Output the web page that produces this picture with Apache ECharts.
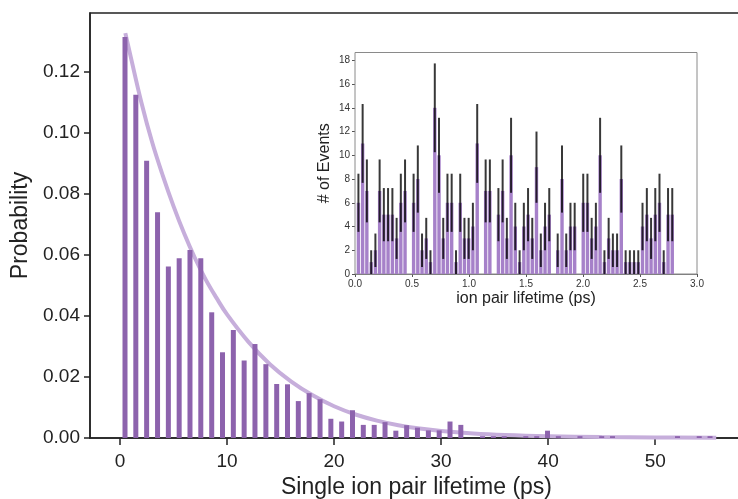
<!DOCTYPE html>
<html>
<head>
<meta charset="utf-8">
<script src="https://cdn.jsdelivr.net/npm/echarts@6/dist/echarts.min.js"></script>
<style>
  html, body { margin: 0; padding: 0; background: #fff; }
  #chart_main { width: 738px; height: 499px; }
</style>
</head>
<body>
<div id="chart_main"></div>
<script>
// main histogram: bin centres (ps) and probability
var lifeBins = [0.47, 1.48, 2.49, 3.51, 4.52, 5.53, 6.54, 7.55, 8.57, 9.58,
    10.59, 11.60, 12.61, 13.63, 14.64, 15.65, 16.66, 17.67, 18.69, 19.70,
    20.71, 21.72, 22.73, 23.75, 24.76, 25.77, 26.78, 27.79, 28.81, 29.82,
    30.83, 31.84, 32.85, 33.87, 34.88, 35.89, 36.90, 37.91, 38.93, 39.94,
    40.95, 41.96, 42.97, 43.99, 45.00, 46.01, 47.02, 48.03, 49.05, 50.06,
    51.07, 52.08, 53.09, 54.11, 55.12];
var lifeProb = [0.1314, 0.1125, 0.0909, 0.0740, 0.0562, 0.0589, 0.0616, 0.0589, 0.0412, 0.0281,
    0.0354, 0.0254, 0.0308, 0.0242, 0.0177, 0.0176, 0.0121, 0.0147, 0.0127, 0.0063,
    0.0054, 0.0091, 0.0043, 0.0043, 0.0052, 0.0024, 0.0042, 0.0034, 0.0025, 0.0025,
    0.0054, 0.0043, 0, 0.0006, 0.0006, 0.0006, 0, 0.0006, 0.0006, 0.0024,
    0.0006, 0, 0.0006, 0, 0.0006, 0.0006, 0, 0, 0, 0,
    0, 0.0006, 0, 0.0006, 0.0006];
// fitted decay curve
var fitX = [0.5, 1, 2, 3, 4, 5, 6, 7, 8, 9, 10, 12, 14, 16, 18, 20, 22, 24, 26, 28, 30, 33, 36, 40, 45, 50, 55.7];
var fitY = [0.1327, 0.125, 0.110, 0.097, 0.086, 0.076, 0.067, 0.059, 0.052, 0.046, 0.0405, 0.0315, 0.0242, 0.0185, 0.0140,
    0.0104, 0.0077, 0.0057, 0.0042, 0.0031, 0.0023, 0.0015, 0.0010, 0.0006, 0.0003, 0.0002, 0.0001];
var mainXTicks = [0, 10, 20, 30, 40, 50];
var mainYTicks = [0, 0.02, 0.04, 0.06, 0.08, 0.10, 0.12];

// inset histogram: bin centres (ps), counts and error half-widths
var pairBins = [0.030, 0.067, 0.104, 0.142, 0.179, 0.216, 0.253, 0.290, 0.328, 0.365,
    0.402, 0.439, 0.476, 0.514, 0.551, 0.588, 0.625, 0.662, 0.700, 0.737,
    0.774, 0.811, 0.848, 0.886, 0.923, 0.960, 0.997, 1.034, 1.072, 1.109,
    1.146, 1.183, 1.220, 1.258, 1.295, 1.332, 1.369, 1.406, 1.444, 1.481,
    1.518, 1.555, 1.592, 1.630, 1.667, 1.704, 1.741, 1.778, 1.816, 1.853,
    1.890, 1.927, 1.964, 2.002, 2.039, 2.076, 2.113, 2.150, 2.188, 2.225,
    2.262, 2.299, 2.336, 2.374, 2.411, 2.448, 2.485, 2.522, 2.560, 2.597,
    2.634, 2.671, 2.708, 2.746, 2.783];
var pairCount = [6, 11, 7, 1, 2, 7, 5, 5, 5, 3,
    6, 7, 0, 6, 8, 2, 3, 1, 14, 10,
    3, 6, 6, 1, 6, 3, 3, 4, 11, 0,
    7, 7, 0, 5, 7, 3, 10, 4, 1, 4,
    5, 3, 9, 2, 4, 5, 0, 2, 8, 2,
    4, 4, 0, 6, 6, 3, 4, 10, 1, 3,
    2, 2, 8, 1, 1, 1, 1, 4, 5, 3,
    5, 6, 1, 5, 5];
var pairErr = [2.45, 3.32, 2.65, 1, 1.41, 2.65, 2.24, 2.24, 2.24, 1.73,
    2.45, 2.65, 0, 2.45, 2.83, 1.41, 1.73, 1, 3.74, 3.16,
    1.73, 2.45, 2.45, 1, 2.45, 1.73, 1.73, 2, 3.32, 0,
    2.65, 2.65, 0, 2.24, 2.65, 1.73, 3.16, 2, 1, 2,
    2.24, 1.73, 3, 1.41, 2, 2.24, 0, 1.41, 2.83, 1.41,
    2, 2, 0, 2.45, 2.45, 1.73, 2, 3.16, 1, 1.73,
    1.41, 1.41, 2.83, 1, 1, 1, 1, 2, 2.24, 1.73,
    2.24, 2.45, 1, 2.24, 2.24];

var FONT = 'Liberation Sans, Arial, sans-serif';

function zipData(xs, ys){
    var out = [];
    for(var i = 0; i < xs.length; i++){
        out.push([xs[i], ys[i]]);
    }
    return out;
}

function errData(){
    var out = [];
    for(var i = 0; i < pairBins.length; i++){
        if(pairCount[i] > 0){
            out.push([pairBins[i], pairCount[i] - pairErr[i], pairCount[i] + pairErr[i]]);
        }
    }
    return out;
}

function renderErr(params, api){
    var lo = api.coord([api.value(0), api.value(1)]);
    var hi = api.coord([api.value(0), api.value(2)]);
    return {
        type: 'line',
        shape: {x1: lo[0], y1: lo[1], x2: hi[0], y2: hi[1]},
        style: {stroke: 'rgba(0,0,0,0.78)', lineWidth: 2}
    };
}

var chart = echarts.init(document.getElementById('chart_main'), null, {renderer: 'canvas'});
var option = {
    animation: false,
    backgroundColor: '#fff',
    grid: [
        {left: 90, right: -5, top: 13, bottom: 61, outerBoundsMode: 'none', containLabel: false,
            show: true, borderColor: '#222', borderWidth: 1.5, backgroundColor: '#fff'},
        {left: 355, right: 41, top: 52.5, bottom: 225, outerBoundsMode: 'none', containLabel: false,
            show: true, borderColor: '#8a8a8a', borderWidth: 1, backgroundColor: '#fff', z: 5}
    ],
    xAxis: [
        {
            gridIndex: 0, type: 'value', min: -2.8, max: 58.2,
            name: 'Single ion pair lifetime (ps)', nameLocation: 'middle', nameGap: 38,
            nameTextStyle: {fontFamily: FONT, fontSize: 23, color: '#222'},
            axisLine: {show: true, onZero: false, lineStyle: {color: '#222', width: 1.5}},
            axisTick: {show: true, length: 7, customValues: mainXTicks, lineStyle: {color: '#222', width: 1.5}},
            axisLabel: {customValues: mainXTicks, margin: 14, fontFamily: FONT, fontSize: 19, color: '#222'},
            splitLine: {show: false}
        },
        {
            gridIndex: 1, type: 'value', min: 0, max: 3, interval: 0.5,
            name: 'ion pair lifetime (ps)', nameLocation: 'middle', nameGap: 17,
            nameTextStyle: {fontFamily: FONT, fontSize: 16, color: '#222'},
            axisLine: {show: true, onZero: false, lineStyle: {color: '#777', width: 1}},
            axisTick: {show: true, length: 3, lineStyle: {color: '#555'}},
            axisLabel: {margin: 5, fontFamily: FONT, fontSize: 10, color: '#333',
                formatter: function(v){ return v.toFixed(1); }},
            splitLine: {show: false}
        }
    ],
    yAxis: [
        {
            gridIndex: 0, type: 'value', min: 0, max: 0.1393,
            name: 'Probability', nameLocation: 'middle', nameGap: 58,
            nameTextStyle: {fontFamily: FONT, fontSize: 23, color: '#222'},
            axisLine: {show: true, onZero: false, lineStyle: {color: '#222', width: 1.5}},
            axisTick: {show: true, length: 6, customValues: mainYTicks, lineStyle: {color: '#222', width: 1.5}},
            axisLabel: {customValues: mainYTicks, margin: 10, fontFamily: FONT, fontSize: 19, color: '#222',
                formatter: function(v){ return v.toFixed(2); }},
            splitLine: {show: false}
        },
        {
            gridIndex: 1, type: 'value', min: 0, max: 18.66, interval: 2,
            name: '# of Events', nameLocation: 'middle', nameGap: 22,
            nameTextStyle: {fontFamily: FONT, fontSize: 16, color: '#222'},
            axisLine: {show: true, onZero: false, lineStyle: {color: '#777', width: 1}},
            axisTick: {show: true, length: 3, lineStyle: {color: '#555'}},
            axisLabel: {margin: 5, fontFamily: FONT, fontSize: 10, color: '#333'},
            splitLine: {show: false}
        }
    ],
    series: [
        {
            name: 'fit', type: 'line', xAxisIndex: 0, yAxisIndex: 0,
            data: zipData(fitX, fitY), smooth: 0.4, showSymbol: false, z: 1,
            lineStyle: {color: '#c6aedb', width: 4}
        },
        {
            name: 'lifetime', type: 'bar', xAxisIndex: 0, yAxisIndex: 0,
            data: zipData(lifeBins, lifeProb), barWidth: 5, z: 2,
            itemStyle: {color: '#8d63ad'}
        },
        {
            name: 'events', type: 'bar', xAxisIndex: 1, yAxisIndex: 1,
            data: zipData(pairBins, pairCount), barWidth: 3.4, z: 6,
            itemStyle: {color: '#a681c9'}
        },
        {
            name: 'err', type: 'custom', xAxisIndex: 1, yAxisIndex: 1,
            data: errData(), renderItem: renderErr, z: 7
        }
    ]
};
chart.setOption(option);
</script>
</body>
</html>
